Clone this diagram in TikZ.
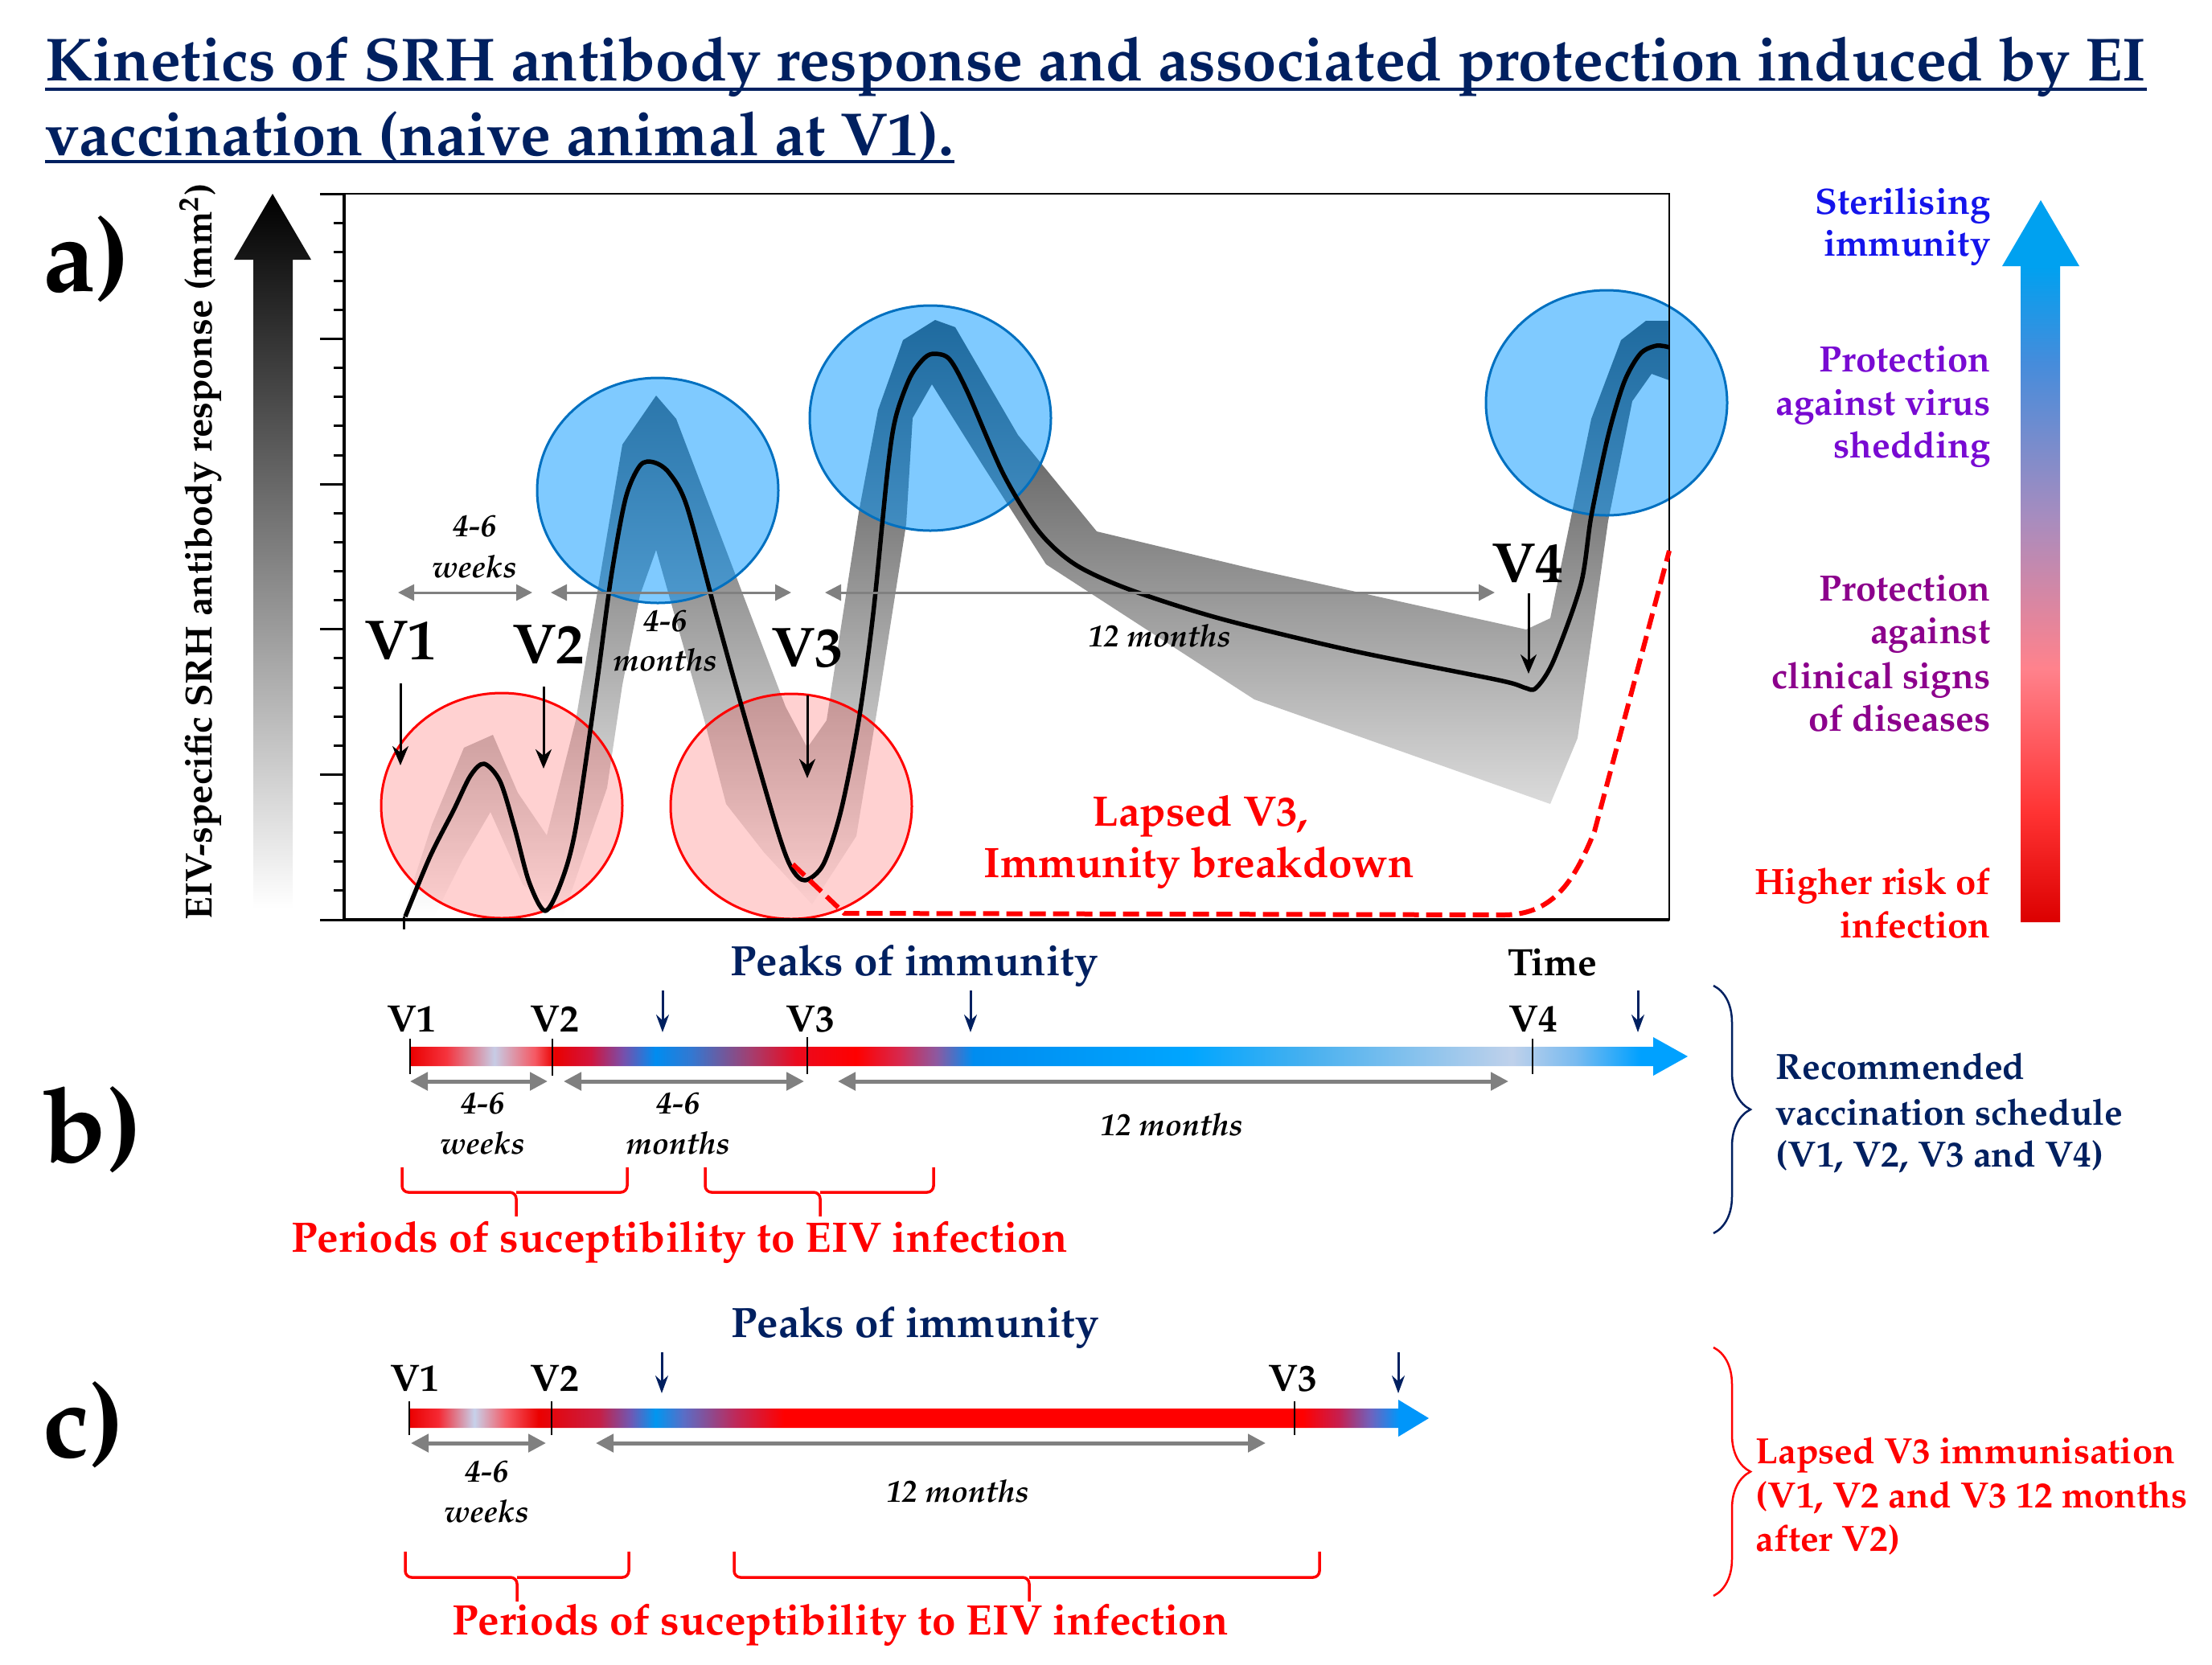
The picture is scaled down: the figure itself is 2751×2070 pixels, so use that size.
\documentclass[tikz,border=0pt]{standalone}
\usepackage[T1]{fontenc}
\usepackage{mathpazo}
\usetikzlibrary{arrows.meta,decorations.pathreplacing}
\definecolor{navy}{RGB}{0,32,96}
\definecolor{cblue}{RGB}{0,150,255}
\definecolor{cblueb}{RGB}{0,112,192}
\definecolor{midgray}{RGB}{128,128,128}
\definecolor{sterblue}{RGB}{20,20,235}
\definecolor{shedpurple}{RGB}{120,10,210}
\definecolor{clinpurple}{RGB}{140,0,140}
\pgfdeclareverticalshading{legendshade}{100bp}{rgb(0bp)=(0.86,0,0); rgb(25bp)=(0.86,0,0); rgb(32.6bp)=(1,0.2,0.2); rgb(42.6bp)=(1,0.51,0.55); rgb(53.2bp)=(0.65,0.55,0.75); rgb(63.8bp)=(0.27,0.55,0.86); rgb(70.4bp)=(0,0.63,0.94); rgb(100bp)=(0,0.63,0.94)}
\pgfdeclarehorizontalshading{barshadeb}{100bp}{rgb(0bp)=(0.92,0,0); rgb(25bp)=(0.92,0,0); rgb(26.42bp)=(0.96,0.2,0.24); rgb(28.3bp)=(0.78,0.8,0.9); rgb(29.88bp)=(0.96,0.35,0.39); rgb(30.66bp)=(0.92,0,0); rgb(32.08bp)=(0.82,0.08,0.24); rgb(33.34bp)=(0.47,0.31,0.67); rgb(34.6bp)=(0,0.55,0.94); rgb(36.01bp)=(0.2,0.47,0.82); rgb(38.37bp)=(0.65,0.24,0.43); rgb(40.1bp)=(0.92,0.04,0.12); rgb(42.46bp)=(1,0,0); rgb(44.19bp)=(0.84,0.16,0.31); rgb(45.61bp)=(0.55,0.35,0.63); rgb(47.03bp)=(0,0.55,0.94); rgb(55.52bp)=(0,0.65,1); rgb(59.93bp)=(0.27,0.69,0.94); rgb(68.11bp)=(0.75,0.82,0.92); rgb(70.63bp)=(0.47,0.73,0.94); rgb(73.14bp)=(0,0.63,1); rgb(100bp)=(0,0.63,1)}
\pgfdeclarehorizontalshading{barshadec}{100bp}{rgb(0bp)=(0.92,0,0); rgb(25bp)=(0.92,0,0); rgb(26.42bp)=(0.96,0.16,0.2); rgb(28.19bp)=(0.78,0.82,0.92); rgb(29.77bp)=(0.96,0.35,0.39); rgb(31.35bp)=(0.92,0,0); rgb(34.31bp)=(0.78,0.12,0.27); rgb(35.88bp)=(0.43,0.35,0.71); rgb(37.07bp)=(0,0.59,0.94); rgb(38.45bp)=(0.35,0.43,0.78); rgb(41.01bp)=(0.75,0.16,0.35); rgb(43.38bp)=(1,0,0); rgb(68.81bp)=(1,0,0); rgb(70.58bp)=(0.78,0.12,0.31); rgb(72.16bp)=(0.43,0.39,0.75); rgb(73.54bp)=(0,0.59,0.98); rgb(100bp)=(0,0.59,0.98)}
\tikzset{
  ttl/.style={font=\fontsize{21.55}{26}\selectfont\bfseries, text=navy, anchor=base west, inner sep=0pt},
  panellab/.style={font=\fontsize{37}{40}\selectfont\bfseries, anchor=base west, inner sep=0pt},
  vbig/.style={font=\fontsize{20}{24}\selectfont\bfseries, anchor=base, inner sep=0pt},
  vsmall/.style={font=\fontsize{13.5}{16}\selectfont\bfseries, anchor=base, inner sep=0pt},
  durlab/.style={font=\fontsize{11}{13}\selectfont\bfseries\itshape, anchor=base, inner sep=0pt},
  axlab/.style={font=\fontsize{13.3}{16}\selectfont\bfseries, inner sep=0pt},
  legtxt/.style={font=\fontsize{12.95}{16}\selectfont\bfseries, anchor=base east, inner sep=0pt},
  schedtxt/.style={font=\fontsize{12.9}{16}\selectfont\bfseries, anchor=base west, inner sep=0pt},
  peaklab/.style={font=\fontsize{15}{17}\selectfont\bfseries, text=navy, anchor=base, inner sep=0pt},
  redlab/.style={font=\fontsize{15.1}{18}\selectfont\bfseries, text=red, anchor=base, inner sep=0pt},
  bluecirc/.style={draw=cblueb, line width=0.3mm, fill=cblue, fill opacity=0.5},
  redcirc/.style={draw=red, line width=0.3mm, fill=red, fill opacity=0.18},
  spanA/.style={draw=midgray, line width=0.3mm, {Triangle[length=2mm,width=2mm]}-{Triangle[length=2mm,width=2mm]}},
  spanB/.style={draw=midgray, line width=0.5mm, {Triangle[length=2.2mm,width=2.2mm]}-{Triangle[length=2.2mm,width=2.2mm]}},
  varrow/.style={draw=black, line width=0.3mm, -{Stealth[length=2.4mm,width=2mm]}},
  peakarrow/.style={draw=navy, line width=0.3mm, -{Stealth[length=2.2mm,width=1.6mm]}},
  redbrace/.style={draw=red, line width=0.35mm, rounded corners=0.8mm},
  vtick/.style={draw=black, line width=0.15mm},
}
\begin{document}
\begin{tikzpicture}[x=0.1mm,y=-0.1mm]
\useasboundingbox (0,0) rectangle (2751,2070);

% ---------------- title
\node[ttl] (title1) at (56,100) {Kinetics of SRH antibody response and associated protection induced by EI};
\node[ttl] (title2) at (56,193) {vaccination (naive animal at V1).};
\draw[navy,line width=0.4mm] ([yshift=-1.05mm]title1.base west) -- ([yshift=-1.05mm]title1.base east);
\draw[navy,line width=0.4mm] ([yshift=-0.8mm]title2.base west) -- ([yshift=-0.8mm]title2.base east);

% ---------------- panel letters
\node[panellab] (pa) at (53,362) {a)};
\node[panellab] (pb) at (53,1445) {b)};
\node[panellab] (pc) at (53,1812) {c)};

% ---------------- left gradient arrow and axis label
\shade[top color=black, bottom color=white] (315,1130) -- (315,323) -- (291,323) -- (339,241) -- (387,323) -- (364,323) -- (364,1130) -- cycle;
\node[axlab, rotate=90] (ylab) at (249,686) {EIV-specific SRH antibody response (mm\textsuperscript{2})};

% ---------------- grey band
\shade[top color=black!75, middle color=black!42, bottom color=white]
 (500,1140) -- (537,1026) -- (577,930) -- (613,914) -- (644,986) -- (680,1039) -- (716,896) -- (774,553) -- (816,492) -- (841,521) -- (977,879) -- (1004,930) -- (1028,896) -- (1068,637) -- (1092,510) -- (1123,423) -- (1163,398) -- (1188,407) -- (1266,541) -- (1364,661) -- (1560,708) -- (1898,783) -- (1928,769) -- (1979,521) -- (2016,423) -- (2047,399) -- (2076,399)
 -- (2076,473) -- (2054,465) -- (2030,499) -- (2000,648) -- (1962,918) -- (1928,1000) -- (1560,870) -- (1301,702) -- (1221,577) -- (1159,478) -- (1135,520) -- (1127,652) -- (1092,876) -- (1065,1040) -- (1010,1125) -- (950,1060) -- (903,1000) -- (876,896) -- (816,684) -- (796,740) -- (774,852) -- (755,980) -- (700,1140) -- (650,1100) -- (610,1010) -- (575,1070) -- (540,1140) -- cycle;

% ---------------- circles
\draw[redcirc] (624,1002) ellipse [x radius=15mm, y radius=14mm];
\draw[redcirc] (984,1003) ellipse [x radius=15mm, y radius=14mm];
\draw[bluecirc] (818,610) ellipse [x radius=15mm, y radius=14mm];
\draw[bluecirc] (1157,520) ellipse [x radius=15mm, y radius=14mm];
\draw[bluecirc] (1998,501) ellipse [x radius=15mm, y radius=14mm];

% ---------------- plot frame and ticks
\draw[line width=0.2mm] (428,241) rectangle (2076,1144);
\draw[line width=0.35mm] (428,241) -- (428,1144) -- (2076,1144);
\foreach \k in {0,...,25}{
  \pgfmathsetmacro{\yy}{241+\k*36.12}
  \pgfmathtruncatemacro{\mm}{mod(\k,5)}
  \ifnum\mm=0
    \draw[line width=0.3mm] (398,\yy) -- (428,\yy);
  \else
    \draw[line width=0.3mm] (415,\yy) -- (428,\yy);
  \fi
}
\draw[line width=0.3mm] (502,1140) -- (502,1156);

% ---------------- response curve
\draw[line width=0.55mm, line join=round] plot[smooth, tension=0.5] coordinates {(504,1140) (535,1065) (564,1008) (585,965) (602,950) (622,972) (640,1030) (658,1097) (678,1133) (698,1097) (716,1030) (742,852) (760,718) (778,620) (796,579) (813,575) (832,588) (854,629) (890,762) (921,874) (966,1030) (984,1079) (1001,1095) (1024,1075) (1046,1008) (1068,896) (1086,763) (1104,584) (1114,519) (1132,469) (1150,445) (1163,440) (1181,447) (1203,487) (1248,590) (1292,661) (1337,702) (1404,733) (1516,769) (1680,809) (1864,846) (1895,855) (1910,856) (1932,822) (1966,727) (1979,642) (2000,542) (2020,475) (2040,440) (2060,430) (2076,432)};

% ---------------- lapsed dashed line
\draw[red, line width=0.6mm, dash pattern=on 2mm off 0.9mm] (986,1075) -- (1050,1136) -- (1870,1138) .. controls (1935,1138) and (1960,1090) .. (1983,1034) -- (2076,685);

% ---------------- vaccination arrows in a
\coordinate (av1s) at (498,850); \coordinate (av1e) at (498,952);
\coordinate (av2s) at (676,854); \coordinate (av2e) at (676,956);
\coordinate (av3s) at (1004,865); \coordinate (av3e) at (1004,968);
\coordinate (av4s) at (1901,738); \coordinate (av4e) at (1901,838);
\draw[varrow] (av1s) -- (av1e);
\draw[varrow] (av2s) -- (av2e);
\draw[varrow] (av3s) -- (av3e);
\draw[varrow] (av4s) -- (av4e);
\node[vbig] (la1) at (498,820) {V1};
\node[vbig] (la2) at (682,825) {V2};
\node[vbig] (la3) at (1004,829) {V3};
\node[vbig] (la4) at (1900,724) {V4};

% ---------------- spans in a
\coordinate (sa1l) at (495,737); \coordinate (sa1r) at (662,737);
\coordinate (sa2l) at (685,737); \coordinate (sa2r) at (984,737);
\coordinate (sa3l) at (1026,737); \coordinate (sa3r) at (1859,737);
\draw[spanA] (sa1l) -- (sa1r);
\draw[spanA] (sa2l) -- (sa2r);
\draw[spanA] (sa3l) -- (sa3r);
\node[durlab] (da1) at (590,667) {4-6};
\node[durlab] (da2) at (590,718) {weeks};
\node[durlab] (da3) at (827,785) {4-6};
\node[durlab] (da4) at (827,834) {months};
\node[durlab] (da5) at (1442,804) {12 months};

\node[redlab] (lapse1) at (1493,1027) {Lapsed V3,};
\node[redlab] (lapse2) at (1491,1091) {Immunity breakdown};

% ---------------- right legend arrow
\shade[shading=legendshade] (2513,1147) -- (2513,331) -- (2490,331) -- (2538,249) -- (2586,331) -- (2562,331) -- (2562,1147) -- cycle;
\node[legtxt, text=sterblue] (lg1) at (2476,266) {Sterilising};
\node[legtxt, text=sterblue] (lg2) at (2476,318) {immunity};
\node[legtxt, text=shedpurple] (lg3) at (2476,462) {Protection};
\node[legtxt, text=shedpurple] (lg4) at (2476,516) {against virus};
\node[legtxt, text=shedpurple] (lg5) at (2476,569) {shedding};
\node[legtxt, text=clinpurple] (lg6) at (2476,747) {Protection};
\node[legtxt, text=clinpurple] (lg7) at (2476,800) {against};
\node[legtxt, text=clinpurple] (lg8) at (2476,856) {clinical signs};
\node[legtxt, text=clinpurple] (lg9) at (2476,909) {of diseases};
\node[legtxt, text=red] (lg10) at (2476,1112) {Higher risk of};
\node[legtxt, text=red] (lg11) at (2476,1166) {infection};

% ---------------- panel b
\node[peaklab] (pkb) at (1137,1213) {Peaks of immunity};
\node[vsmall] (timeb) at (1931,1213) {Time};
\shade[shading=barshadeb] (510,1302) -- (2056,1302) -- (2056,1290) -- (2099,1314) -- (2056,1338) -- (2056,1326) -- (510,1326) -- cycle;
\draw[vtick] (510,1292) -- (510,1336);
\draw[vtick] (687,1292) -- (687,1338);
\draw[vtick] (1004,1290) -- (1004,1336);
\draw[vtick] (1906,1292) -- (1906,1336);
\node[vsmall] (lb1) at (512,1283) {V1};
\node[vsmall] (lb2) at (690,1283) {V2};
\node[vsmall] (lb3) at (1008,1283) {V3};
\node[vsmall] (lb4) at (1907,1283) {V4};
\coordinate (pb1s) at (824,1232); \coordinate (pb1e) at (824,1284);
\coordinate (pb2s) at (1207,1232); \coordinate (pb2e) at (1207,1284);
\coordinate (pb3s) at (2037,1232); \coordinate (pb3e) at (2037,1284);
\draw[peakarrow] (pb1s) -- (pb1e);
\draw[peakarrow] (pb2s) -- (pb2e);
\draw[peakarrow] (pb3s) -- (pb3e);
\coordinate (sb1l) at (510,1345); \coordinate (sb1r) at (681,1345);
\coordinate (sb2l) at (701,1345); \coordinate (sb2r) at (1000,1345);
\coordinate (sb3l) at (1042,1345); \coordinate (sb3r) at (1876,1345);
\draw[spanB] (sb1l) -- (sb1r);
\draw[spanB] (sb2l) -- (sb2r);
\draw[spanB] (sb3l) -- (sb3r);
\node[durlab] (db1) at (600,1385) {4-6};
\node[durlab] (db2) at (600,1435) {weeks};
\node[durlab] (db3) at (843,1385) {4-6};
\node[durlab] (db4) at (843,1435) {months};
\node[durlab] (db5) at (1457,1412) {12 months};
\draw[redbrace] (500,1452) |- (642,1483) -- (642,1513);
\draw[redbrace] (780,1452) |- (642,1483);
\draw[redbrace] (877,1452) |- (1020,1483) -- (1020,1513);
\draw[redbrace] (1161,1452) |- (1020,1483);
\node[redlab] (susb) at (845,1557) {Periods of suceptibility to EIV infection};

% ---------------- panel c
\node[peaklab] (pkc) at (1138,1663) {Peaks of immunity};
\shade[shading=barshadec] (509,1752) -- (1739,1752) -- (1739,1741) -- (1777,1764) -- (1739,1787) -- (1739,1776) -- (509,1776) -- cycle;
\draw[vtick] (509,1743) -- (509,1785);
\draw[vtick] (686,1743) -- (686,1785);
\draw[vtick] (1610,1743) -- (1610,1785);
\node[vsmall] (lc1) at (516,1730) {V1};
\node[vsmall] (lc2) at (690,1730) {V2};
\node[vsmall] (lc3) at (1608,1730) {V3};
\coordinate (pc1s) at (823,1682); \coordinate (pc1e) at (823,1733);
\coordinate (pc2s) at (1739,1682); \coordinate (pc2e) at (1739,1733);
\draw[peakarrow] (pc1s) -- (pc1e);
\draw[peakarrow] (pc2s) -- (pc2e);
\coordinate (sc1l) at (511,1795); \coordinate (sc1r) at (679,1795);
\coordinate (sc2l) at (741,1795); \coordinate (sc2r) at (1574,1795);
\draw[spanB] (sc1l) -- (sc1r);
\draw[spanB] (sc2l) -- (sc2r);
\node[durlab] (dc1) at (605,1843) {4-6};
\node[durlab] (dc2) at (605,1893) {weeks};
\node[durlab] (dc3) at (1191,1868) {12 months};
\draw[redbrace] (504,1930) |- (643,1962) -- (643,1992);
\draw[redbrace] (782,1930) |- (643,1962);
\draw[redbrace] (913,1930) |- (1280,1962) -- (1280,1992);
\draw[redbrace] (1641,1930) |- (1280,1962);
\node[redlab] (susc) at (1045,2033) {Periods of suceptibility to EIV infection};

% ---------------- right braces and schedule texts
\coordinate (brb1) at (2131,1226); \coordinate (brb2) at (2131,1534);
\draw[navy, line width=0.25mm, decorate, decoration={brace, amplitude=4.6mm}] (brb1) -- (brb2);
\node[schedtxt, text=navy] (rec1) at (2208,1342) {Recommended};
\node[schedtxt, text=navy] (rec2) at (2208,1399) {vaccination schedule};
\node[schedtxt, text=navy] (rec3) at (2208,1451) {(V1, V2, V3 and V4)};
\coordinate (brc1) at (2131,1676); \coordinate (brc2) at (2131,1985);
\draw[red, line width=0.25mm, decorate, decoration={brace, amplitude=4.6mm}] (brc1) -- (brc2);
\node[schedtxt, text=red] (lap1) at (2183,1820) {Lapsed V3 immunisation};
\node[schedtxt, text=red] (lap2) at (2183,1875) {(V1, V2 and V3 12 months};
\node[schedtxt, text=red] (lap3) at (2183,1929) {after V2)};
\end{tikzpicture}
\end{document}
